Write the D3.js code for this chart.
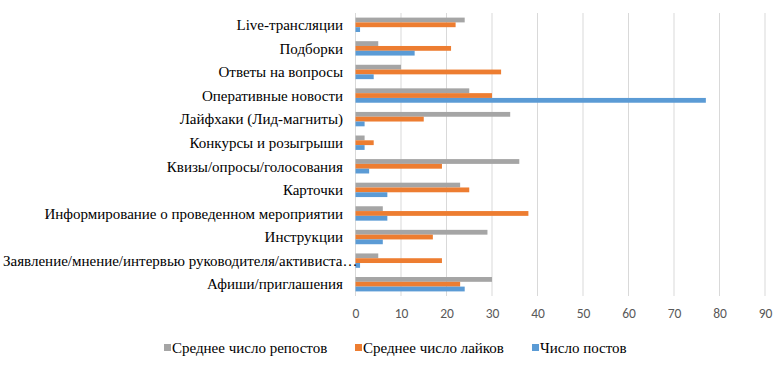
<!DOCTYPE html>
<html><head><meta charset="utf-8">
<script src="https://cdn.jsdelivr.net/npm/d3@7/dist/d3.min.js"></script>
<style>body{margin:0;background:#fff;}svg{display:block;}</style>
</head><body>
<svg id="chart" width="784" height="365"></svg>
<script>
const categories = [
  "Live-трансляции",
  "Подборки",
  "Ответы на вопросы",
  "Оперативные новости",
  "Лайфхаки (Лид-магниты)",
  "Конкурсы и розыгрыши",
  "Квизы/опросы/голосования",
  "Карточки",
  "Информирование о проведенном мероприятии",
  "Инструкции",
  "Заявление/мнение/интервью руководителя/активиста…",
  "Афиши/приглашения"
];
const seriesNames = ["Среднее число репостов", "Среднее число лайков", "Число постов"];
const reposts = [24, 5, 10, 25, 34, 2, 36, 23, 6, 29, 5, 30];
const likes   = [22, 21, 32, 30, 15, 4, 19, 25, 38, 17, 19, 23];
const posts   = [1, 13, 4, 77, 2, 2, 3, 7, 7, 6, 1, 24];
const xTicks = [0, 10, 20, 30, 40, 50, 60, 70, 80, 90];
const colors = ["#A5A5A5", "#ED7D31", "#5B9BD5"];

(function () {
const svg = d3.select("#chart");
const serif = "'Liberation Serif', 'Times New Roman', serif";
const pl = 355.5, pr = 765, pt = 13, pb = 296;
const x = d3.scaleLinear().domain([0, 90]).range([pl, pr]);
const y = d3.scaleBand().domain(categories).range([pt, pb]).paddingInner(0.39).paddingOuter(0.195);
const sub = d3.scaleBand().domain(seriesNames).range([0, y.bandwidth()]);

// gridlines
svg.append("g").selectAll("line").data(xTicks).join("line")
  .attr("x1", d => x(d)).attr("x2", d => x(d))
  .attr("y1", pt).attr("y2", pb)
  .attr("stroke", "#D9D9D9").attr("stroke-width", 1);

const data = [reposts, likes, posts];
data.forEach((vals, si) => {
  svg.append("g").selectAll("rect").data(vals).join("rect")
    .attr("x", x(0))
    .attr("y", (d, i) => y(categories[i]) + sub(seriesNames[si]))
    .attr("width", d => x(d) - x(0))
    .attr("height", sub.bandwidth())
    .attr("fill", colors[si]);
});

// category labels
svg.append("g").selectAll("text").data(categories).join("text")
  .attr("x", d => d.endsWith("…") ? 3 : 343)
  .attr("y", d => y(d) + y.bandwidth() / 2)
  .attr("dy", "0.35em")
  .attr("text-anchor", d => d.endsWith("…") ? "start" : "end")
  .style("font-family", serif)
  .attr("font-size", 15)
  .attr("fill", "#000")
  .text(d => d);

// x axis tick labels
const xAxis = d3.axisBottom(x).tickValues(xTicks).tickSize(0).tickPadding(0);
const ax = svg.append("g").attr("transform", `translate(0,${pb + 12})`).call(xAxis);
ax.select(".domain").remove();
ax.selectAll("text")
  .style("font-family", "Carlito, 'Liberation Sans', Arial, sans-serif")
  .attr("font-size", 13.5)
  .attr("fill", "#595959");

// legend
const legendX = [164, 355, 532];
const lg = svg.append("g");
seriesNames.forEach((n, i) => {
  lg.append("rect").attr("x", legendX[i]).attr("y", 344).attr("width", 7).attr("height", 7).attr("fill", colors[i]);
  lg.append("text").attr("x", legendX[i] + 8).attr("y", 348).attr("dy", "0.35em")
    .style("font-family", serif)
    .attr("font-size", 15).attr("fill", "#000").text(n);
});
})();
</script>
</body></html>
